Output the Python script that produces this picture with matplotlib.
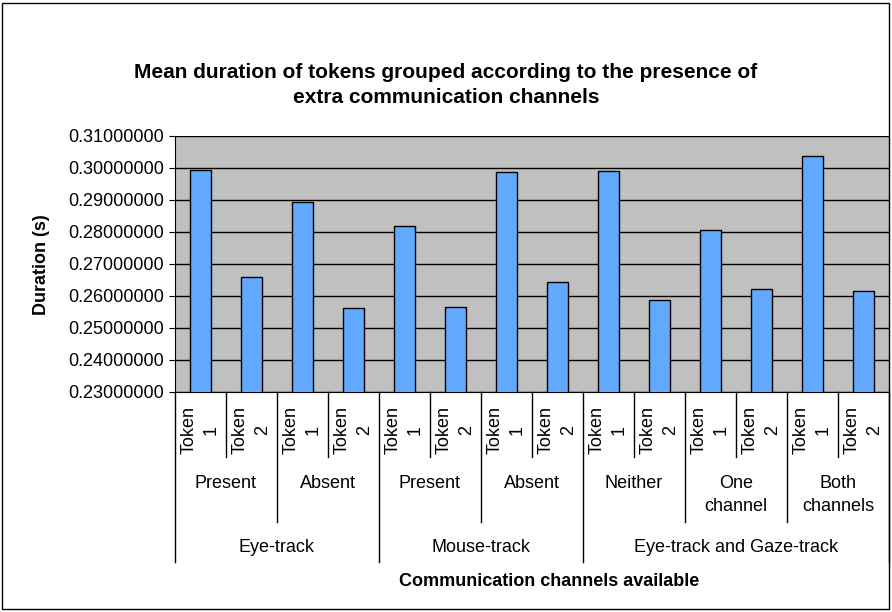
import matplotlib.pyplot as plt
from matplotlib.patches import Rectangle
from matplotlib.ticker import FormatStrFormatter

plt.rcParams['font.family'] = ['Liberation Sans', 'DejaVu Sans']

# dati
gruppi = ['Eye-track', 'Mouse-track', 'Eye-track and Gaze-track']
sottogruppi = [['Present', 'Absent'],
               ['Present', 'Absent'],
               ['Neither', 'One\nchannel', 'Both\nchannels']]
token = ['Token\n1', 'Token\n2']
durate = [0.2995, 0.2659, 0.2894, 0.2561,
          0.2820, 0.2567, 0.2987, 0.2645,
          0.2991, 0.2589, 0.2807, 0.2622, 0.3039, 0.2617]

W, H = 892, 612
fig = plt.figure(figsize=(W / 100, H / 100), dpi=100)
fig.patches.append(Rectangle((2 / W, 3 / H), 887 / W, 606 / H, transform=fig.transFigure,
                             fill=False, edgecolor='black', linewidth=1))

ax_l, ax_r, ax_t, ax_b = 175, 889, 136, 392
ax = fig.add_axes([ax_l / W, 1 - ax_b / H, (ax_r - ax_l) / W, (ax_b - ax_t) / H])
ax.set_facecolor('#C0C0C0')

x = list(range(len(durate)))
ax.bar(x, durate, width=0.43, color='#62A9FF', edgecolor='black', linewidth=1, zorder=3)

ax.set_ylim(0.23, 0.31)
ax.set_xlim(-0.5, len(durate) - 0.5)
ax.set_yticks([0.23 + 0.01 * i for i in range(9)])
ax.yaxis.set_major_formatter(FormatStrFormatter('%.8f'))
ax.tick_params(axis='y', labelsize=13, length=4, direction='out', pad=4)
ax.set_xticks([])
ax.grid(axis='y', color='black', linewidth=1, zorder=1)
for s in ['top', 'right']:
    ax.spines[s].set_visible(False)
ax.spines['left'].set_color('black')
ax.spines['bottom'].set_color('black')

trans = ax.get_xaxis_transform()
altezza = ax_b - ax_t


def fy(py):
    return -(py - ax_b) / altezza


# etichette dei token
for i in x:
    ax.text(i, fy(406), token[i % 2], rotation=90, ha='center', va='top',
            fontsize=13, transform=trans, linespacing=1.4)
    if i % 2 == 1:
        ax.plot([i - 0.5, i - 0.5], [0, fy(457)], color='black', lw=1,
                transform=trans, clip_on=False)

# sottogruppi e gruppi
pos = 0
for g, subs in zip(gruppi, sottogruppi):
    start = pos
    for s in subs:
        ax.text(pos + 0.5, fy(475), s, ha='center', va='top', fontsize=13,
                transform=trans, linespacing=1.45)
        if pos != start:
            ax.plot([pos - 0.5, pos - 0.5], [0, fy(522)], color='black', lw=1,
                    transform=trans, clip_on=False)
        pos += 2
    ax.text((start + pos - 1) / 2, fy(548), g, ha='center', va='center', fontsize=13,
            transform=trans)
    ax.plot([start - 0.5, start - 0.5], [0, fy(562)], color='black', lw=1,
            transform=trans, clip_on=False)
ax.plot([pos - 0.5, pos - 0.5], [0, fy(562)], color='black', lw=1,
        transform=trans, clip_on=False)

fig.text(446 / W, 1 - 85 / H,
         'Mean duration of tokens grouped according to the presence of\nextra communication channels',
         ha='center', va='center', fontsize=15, fontweight='bold', linespacing=1.35)
fig.text(42 / W, 1 - 265 / H, 'Duration (s)', rotation=90, ha='center', va='center',
         fontsize=13, fontweight='bold')
fig.text(549 / W, 1 - 582 / H, 'Communication channels available', ha='center', va='center',
         fontsize=13, fontweight='bold')

fig.savefig('out.png', dpi=100)
